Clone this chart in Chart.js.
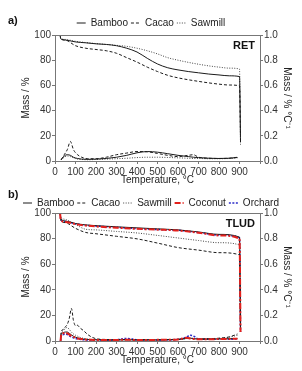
<!DOCTYPE html>
<html>
<head>
<meta charset="utf-8">
<script src="https://cdn.jsdelivr.net/npm/chart.js@4.4.0/dist/chart.umd.min.js"></script>
<style>
  body { margin: 0; background: #fff; font-family: "Liberation Sans", Arial, sans-serif; }
  #wrap { position: relative; width: 302px; height: 371px; }
  canvas { position: absolute; left: 0; }
  #chartA { top: 0; }
  #chartB { top: 186px; }
  .tag { position: absolute; left: 8px; font-weight: bold; font-size: 11px; color: #111; line-height: 12px; }
</style>
</head>
<body>
<div id="wrap">
  <canvas id="chartA" width="302" height="186"></canvas>
  <canvas id="chartB" width="302" height="185"></canvas>
  <div class="tag" style="top:14px">a)</div>
  <div class="tag" style="top:188px">b)</div>
</div>
<script>
// ---- panel a) RET ----
const tMassA = [25, 28, 50, 100, 150, 200, 250, 300, 350, 400, 450, 500, 550, 600, 650, 700, 750, 800, 850, 900, 905];
const bambooMassA = [100, 97, 96, 94.5, 93.8, 93, 92.5, 91.5, 89.5, 86.5, 81.5, 77, 74, 72.3, 71, 70, 69, 68.3, 67.6, 67, 15];
const cacaoMassA = [100, 97, 96, 91.5, 89.5, 88.5, 87.5, 85.5, 82, 78.5, 74.5, 71, 68, 66, 64.5, 63.2, 62, 61, 60.3, 59.7, 20];
const sawmillMassA = [100, 97.5, 96.5, 95, 94, 93.2, 92.5, 91.8, 91, 89.5, 87.5, 85, 82, 80, 78.3, 76.8, 75.5, 74.5, 73.7, 73, 13];

const tDerA = [30, 45, 60, 75, 90, 110, 130, 160, 200, 250, 300, 350, 400, 450, 500, 550, 600, 650, 675, 700, 750, 800, 850, 890];
const bambooDerA = [0.01, 0.04, 0.05, 0.045, 0.03, 0.02, 0.015, 0.013, 0.015, 0.02, 0.03, 0.045, 0.065, 0.075, 0.07, 0.058, 0.045, 0.035, 0.03, 0.027, 0.022, 0.02, 0.022, 0.028];
const cacaoDerA = [0.01, 0.05, 0.09, 0.155, 0.09, 0.05, 0.03, 0.018, 0.018, 0.03, 0.05, 0.063, 0.075, 0.073, 0.06, 0.045, 0.035, 0.045, 0.05, 0.03, 0.022, 0.02, 0.022, 0.03];
const sawmillDerA = [0.01, 0.03, 0.04, 0.035, 0.025, 0.015, 0.012, 0.01, 0.012, 0.015, 0.018, 0.022, 0.027, 0.03, 0.03, 0.028, 0.025, 0.022, 0.02, 0.02, 0.018, 0.018, 0.02, 0.025];

// ---- panel b) TLUD ----
const tMassB = [25, 28, 50, 100, 150, 200, 300, 400, 500, 600, 700, 800, 900, 905];
const bambooMassB = [100, 95.5, 93.8, 91.8, 90.7, 90.1, 89.2, 88.4, 87.6, 86.8, 85.2, 83.3, 81.2, 8];
const cacaoMassB = [100, 94, 92.5, 88, 84.8, 83.8, 81.8, 79.8, 76.5, 73, 71, 69, 67.3, 6];
const sawmillMassB = [100, 97, 95, 91, 87.3, 86.8, 85.6, 84.4, 82.5, 80.5, 78.5, 76.8, 75, 7];
const coconutMassB = [100, 94.5, 93, 91.3, 90.2, 89.5, 88.5, 87.6, 87, 86.3, 84.6, 82.5, 80, 7];
const orchardMassB = [100, 95, 93.3, 91.5, 90.4, 89.8, 88.8, 87.8, 87.1, 86.5, 84.8, 82.8, 80.5, 7];

const tDerB = [27, 30, 40, 50, 60, 70, 80, 90, 100, 110, 120, 140, 160, 180, 200, 250, 300, 350, 400, 450, 500, 550, 600, 640, 660, 680, 700, 750, 800, 850, 890];
const bambooDerB = [0, 0.05, 0.065, 0.07, 0.07, 0.06, 0.048, 0.037, 0.03, 0.025, 0.02, 0.015, 0.012, 0.01, 0.01, 0.008, 0.008, 0.01, 0.008, 0.008, 0.008, 0.01, 0.012, 0.02, 0.022, 0.018, 0.015, 0.015, 0.016, 0.018, 0.02];
const cacaoDerB = [0, 0.07, 0.09, 0.11, 0.13, 0.18, 0.255, 0.16, 0.12, 0.123, 0.105, 0.08, 0.05, 0.03, 0.018, 0.012, 0.01, 0.012, 0.01, 0.01, 0.01, 0.012, 0.013, 0.02, 0.022, 0.018, 0.015, 0.018, 0.022, 0.032, 0.055];
const sawmillDerB = [0, 0.06, 0.08, 0.1, 0.105, 0.09, 0.07, 0.055, 0.045, 0.038, 0.03, 0.02, 0.015, 0.012, 0.01, 0.008, 0.008, 0.01, 0.008, 0.008, 0.009, 0.01, 0.012, 0.018, 0.02, 0.017, 0.015, 0.017, 0.02, 0.03, 0.045];
const coconutDerB = [0, 0.045, 0.06, 0.065, 0.06, 0.05, 0.04, 0.032, 0.025, 0.02, 0.017, 0.013, 0.01, 0.009, 0.008, 0.008, 0.008, 0.01, 0.008, 0.008, 0.009, 0.01, 0.012, 0.025, 0.02, 0.015, 0.013, 0.014, 0.015, 0.016, 0.018];
const orchardDerB = [0, 0.035, 0.05, 0.055, 0.05, 0.04, 0.032, 0.025, 0.02, 0.016, 0.013, 0.01, 0.008, 0.007, 0.007, 0.007, 0.01, 0.02, 0.01, 0.008, 0.008, 0.01, 0.013, 0.03, 0.045, 0.035, 0.015, 0.013, 0.013, 0.014, 0.015];

const massTicks = [0, 20, 40, 60, 80, 100];
const derTicks = [0, 0.2, 0.4, 0.6, 0.8, 1.0];
const tempTicks = [0, 100, 200, 300, 400, 500, 600, 700, 800, 900];

const FONT = '"Liberation Sans", Arial, sans-serif';
Chart.defaults.font.family = FONT;
Chart.defaults.font.size = 10;
Chart.defaults.color = '#222';

const styles = {
  Bamboo:  { borderColor: '#1a1a1a', borderWidth: 1, borderDash: [] },
  Cacao:   { borderColor: '#1a1a1a', borderWidth: 1, borderDash: [3, 2] },
  Sawmill: { borderColor: '#444', borderWidth: 1, borderDash: [1, 1.5] },
  Coconut: { borderColor: '#e3201b', borderWidth: 2, borderDash: [6, 2, 2, 2], order: -1 },
  Orchard: { borderColor: '#2b2bc8', borderWidth: 1.5, borderDash: [2, 1.5] }
};

function pts(xs, ys) {
  return xs.map((x, i) => ({ x: x, y: ys[i] }));
}

function series(name, xs, ys, axis) {
  return Object.assign({
    label: name,
    data: pts(xs, ys),
    yAxisID: axis,
    pointRadius: 0,
    fill: false,
    cubicInterpolationMode: 'monotone',
    tension: 0.4
  }, styles[name]);
}

// legend items take their dash and width from the dataset line
function legendLabels(chart) {
  const items = Chart.defaults.plugins.legend.labels.generateLabels(chart);
  items.forEach(it => {
    const ds = chart.data.datasets[it.datasetIndex];
    it.lineDash = ds.borderDash;
    it.lineWidth = ds.borderWidth;
    it.strokeStyle = ds.borderColor;
    it.fillStyle = ds.borderColor;
  });
  return items;
}

const axisColor = '#777';

const frame = {
  id: 'frame',
  afterDraw(chart, args, opts) {
    const { ctx, chartArea: a } = chart;
    ctx.save();
    ctx.strokeStyle = axisColor;
    ctx.lineWidth = 1;
    ctx.beginPath();
    ctx.moveTo(a.left, Math.round(a.top) + 0.5);
    ctx.lineTo(a.right, Math.round(a.top) + 0.5);
    ctx.stroke();
    ctx.fillStyle = '#111';
    ctx.font = 'bold 11px ' + FONT;
    ctx.textAlign = 'right';
    ctx.textBaseline = 'middle';
    ctx.fillText(opts.text, a.right - 5, a.top + 11);
    ctx.restore();
  }
};

function makeChart(id, massSets, derSets, tag, pad, legendH) {
  const nMass = massSets.length;
  new Chart(document.getElementById(id), {
    type: 'line',
    data: { datasets: massSets.concat(derSets) },
    plugins: [frame],
    options: {
      responsive: false,
      animation: false,
      layout: { padding: pad },
      plugins: {
        frame: { text: tag },
        tooltip: { enabled: false },
        legend: {
          position: 'top',
          maxHeight: legendH,
          labels: {
            usePointStyle: true,
            pointStyle: 'line',
            pointStyleWidth: 9,
            padding: 3,
            color: '#222',
            font: { size: 10 },
            generateLabels: legendLabels,
            filter: item => item.datasetIndex < nMass,
            sort: (a, b) => a.datasetIndex - b.datasetIndex
          }
        }
      },
      scales: {
        x: {
          type: 'linear',
          min: 0,
          max: 1000,
          afterBuildTicks: s => { s.ticks = tempTicks.concat([1000]).map(v => ({ value: v })); },
          afterFit: s => { s.height = 25; },
          ticks: {
            padding: 2,
            color: '#333',
            autoSkip: false,
            maxRotation: 0,
            minRotation: 0,
            callback: v => (v === 1000 ? '' : v)
          },
          grid: { display: true, drawOnChartArea: false, drawTicks: true, tickLength: 3, color: axisColor },
          border: { display: true, color: axisColor },
          title: { display: true, text: 'Temperature, °C', color: '#222', font: { size: 10 }, padding: { top: 0, bottom: 0 } }
        },
        y: {
          position: 'left',
          min: 0,
          max: 100,
          afterBuildTicks: s => { s.ticks = massTicks.map(v => ({ value: v })); },
          afterFit: s => { s.width = 55; },
          ticks: { padding: 1, color: '#333' },
          grid: { display: true, drawOnChartArea: false, drawTicks: true, tickLength: 3, color: axisColor },
          border: { display: true, color: axisColor },
          title: { display: true, text: 'Mass / %', color: '#222', font: { size: 10 }, padding: { top: 20, bottom: 0 } }
        },
        y2: {
          position: 'right',
          min: 0,
          max: 1,
          afterBuildTicks: s => { s.ticks = derTicks.map(v => ({ value: v })); },
          afterFit: s => { s.width = 42; },
          ticks: { padding: 1, color: '#333', callback: v => Number(v).toFixed(1) },
          grid: { display: true, drawOnChartArea: false, drawTicks: true, tickLength: 3, color: axisColor },
          border: { display: true, color: axisColor },
          title: { display: true, text: 'Mass / % °C⁻¹', color: '#222', font: { size: 10 }, padding: { top: 9, bottom: 0 } }
        }
      }
    }
  });
}

makeChart('chartA',
  [
    series('Bamboo', tMassA, bambooMassA, 'y'),
    series('Cacao', tMassA, cacaoMassA, 'y'),
    series('Sawmill', tMassA, sawmillMassA, 'y')
  ],
  [
    series('Bamboo', tDerA, bambooDerA, 'y2'),
    series('Cacao', tDerA, cacaoDerA, 'y2'),
    series('Sawmill', tDerA, sawmillDerA, 'y2')
  ],
  'RET', { top: 15, bottom: 0, left: 0, right: 0 }, 20);

makeChart('chartB',
  [
    series('Bamboo', tMassB, bambooMassB, 'y'),
    series('Cacao', tMassB, cacaoMassB, 'y'),
    series('Sawmill', tMassB, sawmillMassB, 'y'),
    series('Coconut', tMassB, coconutMassB, 'y'),
    series('Orchard', tMassB, orchardMassB, 'y')
  ],
  [
    series('Bamboo', tDerB, bambooDerB, 'y2'),
    series('Cacao', tDerB, cacaoDerB, 'y2'),
    series('Sawmill', tDerB, sawmillDerB, 'y2'),
    series('Coconut', tDerB, coconutDerB, 'y2'),
    series('Orchard', tDerB, orchardDerB, 'y2')
  ],
  'TLUD', { top: 9, bottom: 5, left: 0, right: 0 }, 18);
</script>
</body>
</html>
